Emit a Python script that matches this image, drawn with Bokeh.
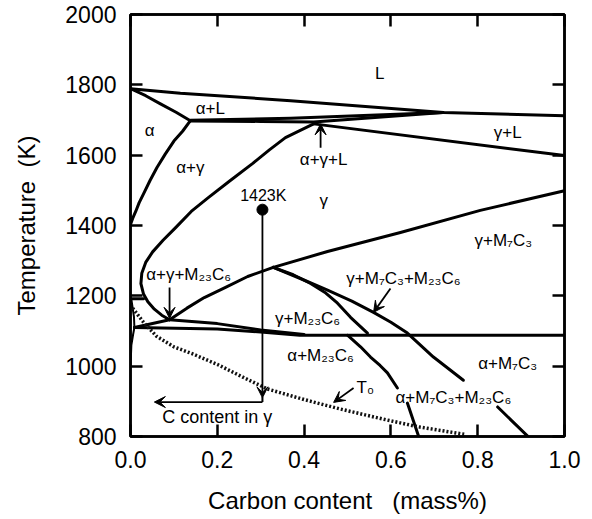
from bokeh.plotting import figure
from bokeh.models import LinearAxis, FixedTicker, Arrow, VeeHead, ColumnDataSource
from bokeh.embed import file_html
from bokeh.resources import INLINE
from bokeh.core.properties import value

# ---------------- data (carbon mass%, temperature K) ----------------
liquidus_x = [0.0, 0.115, 0.369, 0.721, 1.0]
liquidus_T = [1789, 1776, 1755, 1721, 1712]

alpha_sol_x = [0.0, 0.035, 0.069, 0.105, 0.138]
alpha_sol_T = [1789, 1769, 1746, 1722, 1698]

perit_top_x = [0.138, 0.369, 0.72]
perit_top_T = [1699, 1705, 1721]

perit_bot_x = [0.138, 0.30, 0.422, 0.72]
perit_bot_T = [1697, 1696, 1694, 1721]

alpha_gam_x = [0.138, 0.12, 0.10, 0.08, 0.061, 0.045, 0.03, 0.02, 0.012, 0.005, 0.0]
alpha_gam_T = [1698, 1668, 1640, 1603, 1565, 1528, 1490, 1465, 1440, 1420, 1403]

gamma_bd_x = [0.422, 0.39, 0.357, 0.32, 0.281, 0.23, 0.180, 0.14, 0.104, 0.075, 0.051,
              0.035, 0.026, 0.024, 0.030, 0.040, 0.055, 0.072, 0.090]
gamma_bd_T = [1689, 1670, 1650, 1615, 1576, 1528, 1480, 1440, 1394, 1358, 1325,
              1295, 1264, 1235, 1205, 1183, 1162, 1145, 1132]

gamma_sol_x = [0.422, 1.0]
gamma_sol_T = [1689, 1599]

g_m23_x = [0.090, 0.13, 0.17, 0.219, 0.27, 0.329]
g_m23_T = [1132, 1165, 1195, 1224, 1255, 1281]

g_m7_x = [0.329, 0.454, 0.622, 0.806, 1.0]
g_m7_T = [1281, 1326, 1380, 1443, 1499]

short_x = [0.0, 0.03]
short_T = [1192, 1192]

lens_x = [0.002, 0.008, 0.009, 0.006, 0.002, 0.0]
lens_T = [1190, 1140, 1110, 1090, 1060, 1000]

lower_x = [0.009, 0.2, 0.3, 0.39, 1.0]
lower_T = [1110, 1106, 1097, 1088, 1088]

wedge_left_x = [0.009, 0.090]
wedge_left_T = [1110, 1132]

upper_x = [0.090, 0.2, 0.3, 0.40]
upper_T = [1132, 1121, 1103, 1090]

m23_a_x = [0.329, 0.375, 0.415, 0.450, 0.477, 0.507, 0.546]
m23_a_T = [1281, 1260, 1235, 1208, 1179, 1139, 1094]

m23_b_x = [0.50, 0.53, 0.553, 0.575, 0.592, 0.615]
m23_b_T = [1088, 1055, 1026, 1002, 981, 938]

m23_c_x = [0.638, 0.664]
m23_c_T = [895, 800]

m7_a_x = [0.329, 0.39, 0.454, 0.510, 0.560, 0.600, 0.638, 0.698, 0.767]
m7_a_T = [1281, 1250, 1216, 1185, 1153, 1125, 1094, 1026, 960]

m7_b_x = [0.846, 0.915]
m7_b_T = [884, 801]

t0_x = [0.005, 0.03, 0.06, 0.1, 0.143, 0.2, 0.265, 0.316, 0.4, 0.484, 0.58, 0.661, 0.77]
t0_T = [1165, 1125, 1085, 1055, 1035, 1005, 965, 935, 905, 878, 850, 828, 806]

# 1423 K treatment path
hold_x = [0.304]
hold_T = [1445]
path_x = [0.304, 0.304]
path_T = [912, 898]

# arrows (start x, start T, end x, end T)
arr_x0 = [0.438, 0.090, 0.599, 0.514, 0.304, 0.304]
arr_T0 = [1621, 1224, 1221, 938, 1445, 898]
arr_x1 = [0.438, 0.090, 0.560, 0.468, 0.304, 0.055]
arr_T1 = [1689, 1136, 1153, 897, 910, 898]

# phase labels
lab_text = ["L", "\u03b1+L", "\u03b1", "\u03b1+\u03b3", "\u03b3", "\u03b3+L", "\u03b1+\u03b3+L",
            "\u03b3+M\u2087C\u2083", "\u03b1+\u03b3+M\u2082\u2083C\u2086",
            "\u03b3+M\u2087C\u2083+M\u2082\u2083C\u2086", "\u03b3+M\u2082\u2083C\u2086",
            "\u03b1+M\u2082\u2083C\u2086", "\u03b1+M\u2087C\u2083",
            "\u03b1+M\u2087C\u2083+M\u2082\u2083C\u2086", "T\u2080"]
lab_x = [0.574, 0.184, 0.044, 0.138, 0.445, 0.869, 0.445, 0.859, 0.134, 0.629, 0.408, 0.438, 0.869, 0.744, 0.541]
lab_T = [1831, 1732, 1669, 1565, 1471, 1664, 1588, 1357, 1262, 1250, 1136, 1031, 1009, 910, 940]

small_text = ["1423K"]
small_x = [0.306]
small_T = [1485]

big_text = ["C content in \u03b3"]
big_x = [0.2]
big_T = [855]

x_ticks = [0.0, 0.2, 0.4, 0.6, 0.8, 1.0]
y_ticks = [800, 1000, 1200, 1400, 1600, 1800, 2000]

NB = "\u00a0"
x_title = "Carbon content" + NB * 3 + "(mass%)"
y_title = "Temperature" + NB * 2 + "(K)"

# ---------------- figure ----------------
FONT = "Liberation Sans"
p = figure(width=592, height=519, x_range=(0, 1), y_range=(800, 2000),
           output_backend="svg", toolbar_location=None,
           min_border_left=130, min_border_right=28, min_border_top=14, min_border_bottom=83)
p.background_fill_color = "white"
p.border_fill_color = "white"
p.outline_line_color = "black"
p.outline_line_width = 2.5
p.xgrid.visible = False
p.ygrid.visible = False

for ax, ticks in ((p.xaxis[0], x_ticks), (p.yaxis[0], y_ticks)):
    ax.ticker = FixedTicker(ticks=ticks)
    ax.major_tick_in = 12
    ax.major_tick_out = 0
    ax.minor_tick_in = 0
    ax.minor_tick_out = 0
    ax.major_tick_line_width = 2.5
    ax.axis_line_width = 2.5
    ax.major_label_text_font = FONT
    ax.major_label_text_font_size = "23px"
    ax.major_label_text_color = "black"
    ax.axis_label_text_font = FONT
    ax.axis_label_text_font_size = "24px"
    ax.axis_label_text_font_style = "normal"
    ax.axis_label_text_color = "black"

p.xaxis.major_label_overrides = {t: "%.1f" % t for t in x_ticks}
p.xaxis.major_label_standoff = 14
p.xaxis.axis_label = x_title
p.xaxis.axis_label_standoff = 16
p.yaxis.major_label_standoff = 14
p.yaxis.axis_label = y_title
p.yaxis.axis_label_standoff = 22

for loc, ticks in (("right", y_ticks), ("above", x_ticks)):
    ax = LinearAxis(ticker=FixedTicker(ticks=ticks))
    ax.major_tick_in = 12
    ax.major_tick_out = 0
    ax.minor_tick_in = 0
    ax.minor_tick_out = 0
    ax.major_tick_line_width = 2.5
    ax.axis_line_width = 2.5
    ax.major_label_overrides = {t: "" for t in ticks}
    ax.major_label_text_font_size = "0px"
    ax.major_label_standoff = 0
    p.add_layout(ax, loc)

curves = [
    (liquidus_x, liquidus_T), (alpha_sol_x, alpha_sol_T), (perit_top_x, perit_top_T),
    (perit_bot_x, perit_bot_T), (alpha_gam_x, alpha_gam_T), (gamma_bd_x, gamma_bd_T),
    (gamma_sol_x, gamma_sol_T), (g_m23_x, g_m23_T), (g_m7_x, g_m7_T), (short_x, short_T),
    (lower_x, lower_T), (wedge_left_x, wedge_left_T), (upper_x, upper_T),
    (m23_a_x, m23_a_T), (m23_b_x, m23_b_T), (m23_c_x, m23_c_T), (m7_a_x, m7_a_T), (m7_b_x, m7_b_T),
]
for cx, cy in curves:
    p.line(cx, cy, line_color="black", line_width=3, line_join="round", line_cap="round")
p.line(lens_x, lens_T, line_color="black", line_width=2)

p.line(t0_x, t0_T, line_color="#111111", line_width=3.5, line_dash="2 2")

p.line(path_x, path_T, line_color="black", line_width=2)
p.scatter(hold_x, hold_T, size=11, color="black")

asrc = ColumnDataSource(dict(x0=arr_x0, y0=arr_T0, x1=arr_x1, y1=arr_T1))
p.add_layout(Arrow(source=asrc, x_start="x0", y_start="y0", x_end="x1", y_end="y1",
                   line_color="black", line_width=1.8,
                   end=VeeHead(size=11, fill_color="black", line_color="black", line_width=1)))

p.text(lab_x, lab_T, text=lab_text, text_font=value(FONT), text_font_size="17px",
       text_align="center", text_baseline="middle", text_color="black")
p.text(small_x, small_T, text=small_text, text_font=value(FONT), text_font_size="16px",
       text_align="center", text_baseline="middle", text_color="black")
p.text(big_x, big_T, text=big_text, text_font=value(FONT), text_font_size="18px",
       text_align="center", text_baseline="middle", text_color="black")

open("out.html", "w").write(file_html(p, INLINE))
